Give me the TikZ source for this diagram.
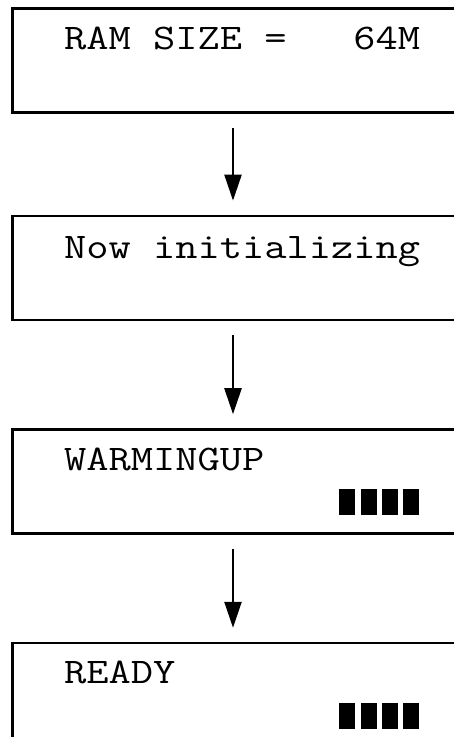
\documentclass[tikz,border=0pt]{standalone}
\usepackage{fontspec}
\setmonofont{Latin Modern Mono}[FakeStretch=1.2]
\usetikzlibrary{arrows.meta,positioning}

\begin{document}
\begin{tikzpicture}[font=\ttfamily\fontsize{36}{38}\selectfont,
  panel/.style={draw,line width=2.6pt,minimum width=470pt,minimum height=104pt,inner sep=0pt,anchor=north west},
  msg/.style={anchor=base west,inner sep=0pt},
  blk/.style={fill=black,minimum width=16pt,minimum height=26pt,inner sep=0pt,anchor=north west},
  flow/.style={-{Triangle[length=26pt,width=17pt]},line width=2.4pt,shorten <=14pt,shorten >=14pt}]
\clip (0pt,0pt) rectangle (454pt,-737pt);
\useasboundingbox (0pt,0pt) rectangle (454pt,-737pt);
% display panels
\node[panel] (ram) at (11pt,-7pt) {};
\node[panel,below=101pt of ram] (init) {};
\node[panel,below=107pt of init] (warm) {};
\node[panel,below=107pt of warm] (ready) {};
% messages
\node[msg] (ramtxt) at ([xshift=53pt,yshift=-42pt]ram.north west) {RAM SIZE =\ \ \ 64M};
\node[msg] (inittxt) at ([xshift=53pt,yshift=-44pt]init.north west) {Now initializing};
\node[msg] (warmtxt) at ([xshift=53pt,yshift=-42pt]warm.north west) {WARMINGUP};
\node[msg] (readytxt) at ([xshift=53pt,yshift=-42pt]ready.north west) {READY};
% level bars
\foreach \i in {0,...,3} {
  \node[blk] (wb\i) at ([xshift=328pt+\i*21.3pt,yshift=-61pt]warm.north west) {};
  \node[blk] (rb\i) at ([xshift=328pt+\i*21.3pt,yshift=-61pt]ready.north west) {};
}
% steps
\draw[flow] ([xshift=222pt]ram.south west) -- ([xshift=222pt]init.north west);
\draw[flow] ([xshift=222pt]init.south west) -- ([xshift=222pt]warm.north west);
\draw[flow] ([xshift=222pt]warm.south west) -- ([xshift=222pt]ready.north west);
\end{tikzpicture}
\end{document}
